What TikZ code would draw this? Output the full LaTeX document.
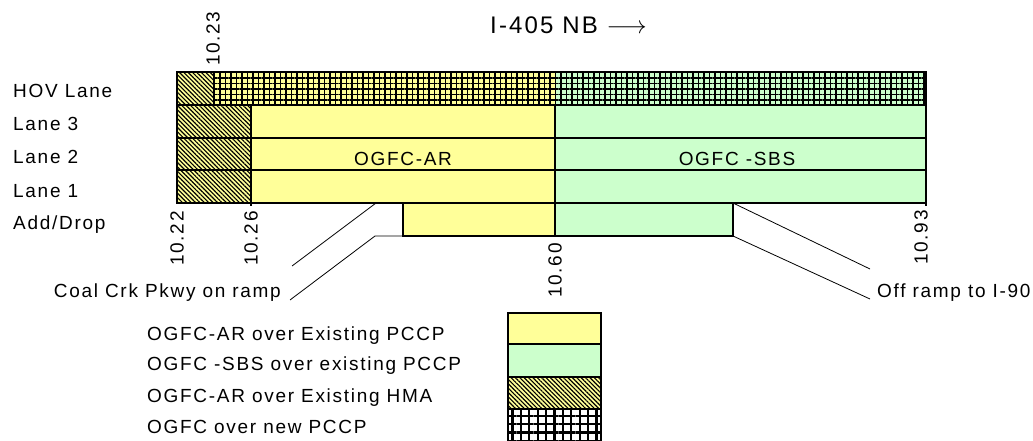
\documentclass[tikz,border=0pt]{standalone}
\usepackage{fontspec}
\setmainfont{Liberation Sans}[LetterSpace=9]
\usetikzlibrary{patterns.meta}
\definecolor{ogyel}{HTML}{FFFF99}
\definecolor{oggrn}{HTML}{CCFFCC}

\begin{document}
\begin{tikzpicture}[x=1pt, y=-1pt,
  % plain label text
  lbl/.style    = {font=\fontsize{19}{22}\selectfont, inner sep=0pt},
  % mile post, turned on its side
  mp/.style     = {lbl, rotate=90},
  % OGFC-AR over existing PCCP
  ar/.style     = {fill=ogyel},
  % OGFC-SBS over existing PCCP
  sbs/.style    = {fill=oggrn},
  % OGFC-AR over existing HMA
  hma/.style    = {fill=ogyel,
                   postaction={pattern={Lines[angle=-45, distance=3.1pt, line width=1.15pt]}}},
  % OGFC over new PCCP
  newpccp/.style= {postaction={pattern={Hatch[distance=5.5pt, line width=1.8pt]}}},
  lanelines/.style = {draw=black, line width=1.4pt},
  ramp/.style   = {draw=black, line width=0.8pt},
]
\useasboundingbox (0,0) rectangle (1033,441);

% ──────────────────────────
%  Direction of travel
% ──────────
\node[font=\fontsize{24}{28}\selectfont, inner sep=0pt, anchor=base west]
  (title) at (490,34) {I-405 NB $\longrightarrow$};

% ──────────────────────────
%  HOV lane
% ──────────
\path[ar, newpccp]  (214,72) rectangle (555,105);
\path[sbs, newpccp] (555,72) rectangle (926,105);
\path[hma]          (177,72) rectangle (214,105);

% ──────────────────────────
%  Lanes 1-3 and add/drop
% ──────────
\path[hma] (177,105) rectangle (251,203);
\path[ar]  (251,105) rectangle (555,203);
\path[sbs] (555,105) rectangle (926,203);
\path[ar]  (403,203) rectangle (555,236);
\path[sbs] (555,203) rectangle (733,236);

% lane lines
\draw[lanelines] (177,72) rectangle (926,203);
\foreach \y in {105,138,170}
  \draw[lanelines] (177,\y) -- (926,\y);
\draw[lanelines] (214,72) -- (214,105);
\draw[lanelines] (251,105) -- (251,206);
\draw[lanelines] (555,105) -- (555,236);
\draw[lanelines] (926,203) -- (926,206);
\draw[lanelines] (403,203) rectangle (733,236);

% ──────────────────────────
%  Ramps
% ──────────
\coordinate (onA)  at (376,203);
\coordinate (onB)  at (375,236);
\coordinate (onC)  at (292,266);
\coordinate (onD)  at (290,300);
\coordinate (offA) at (733,203);
\coordinate (offB) at (733,236);
\coordinate (offC) at (870,269);
\coordinate (offD) at (870,299);
\draw[ramp] (onA) -- (onC);
\draw[ramp] (403,236) -- (onB) -- (onD);
\draw[ramp] (offA) -- (offC);
\draw[ramp] (offB) -- (offD);

\node[lbl, anchor=base east] (onramp)  at (281,297) {Coal Crk Pkwy on ramp};
\node[lbl, anchor=base west] (offramp) at (877,297) {Off ramp to I-90};

% ──────────────────────────
%  Lane names and surfacing
% ──────────
\foreach \n/\t/\b in {hov/HOV Lane/98, lthree/Lane 3/131, ltwo/Lane 2/164,
                      lone/Lane 1/197, adddrop/{Add/Drop}/229}
  \node[lbl, anchor=base west] (\n) at (13,\b) {\t};

\node[lbl, anchor=base] (ogfcar)  at (403,165) {OGFC-AR};
\node[lbl, anchor=base] (ogfcsbs) at (737,165) {OGFC -SBS};

% ──────────────────────────
%  Mile posts
% ──────────
\node[mp, anchor=west] (mpa) at (213,66)  {10.23};
\node[mp, anchor=east] (mpb) at (177,211) {10.22};
\node[mp, anchor=east] (mpc) at (251,211) {10.26};
\node[mp, anchor=east] (mpd) at (555,243) {10.60};
\node[mp, anchor=east] (mpe) at (921,210) {10.93};

% ──────────────────────────
%  Legend
% ──────────
\path[ar]  (508,313) rectangle (601,344);
\path[sbs] (508,344) rectangle (601,377);
\path[hma] (508,377) rectangle (601,409);
\path[fill=white, postaction={pattern={Hatch[distance=8.4pt, line width=2.2pt]}}]
  (508,409) rectangle (601,445);
\draw[lanelines] (508,313) rectangle (601,445);
\foreach \y in {344,377,409}
  \draw[lanelines] (508,\y) -- (601,\y);

\node[lbl, anchor=base west] (keyar)  at (147,340) {OGFC-AR over Existing PCCP};
\node[lbl, anchor=base west] (keysbs) at (147,370) {OGFC -SBS over existing PCCP};
\node[lbl, anchor=base west] (keyhma) at (147,402) {OGFC-AR over Existing HMA};
\node[lbl, anchor=base west] (keynew) at (147,433) {OGFC over new PCCP};

\end{tikzpicture}
\end{document}
